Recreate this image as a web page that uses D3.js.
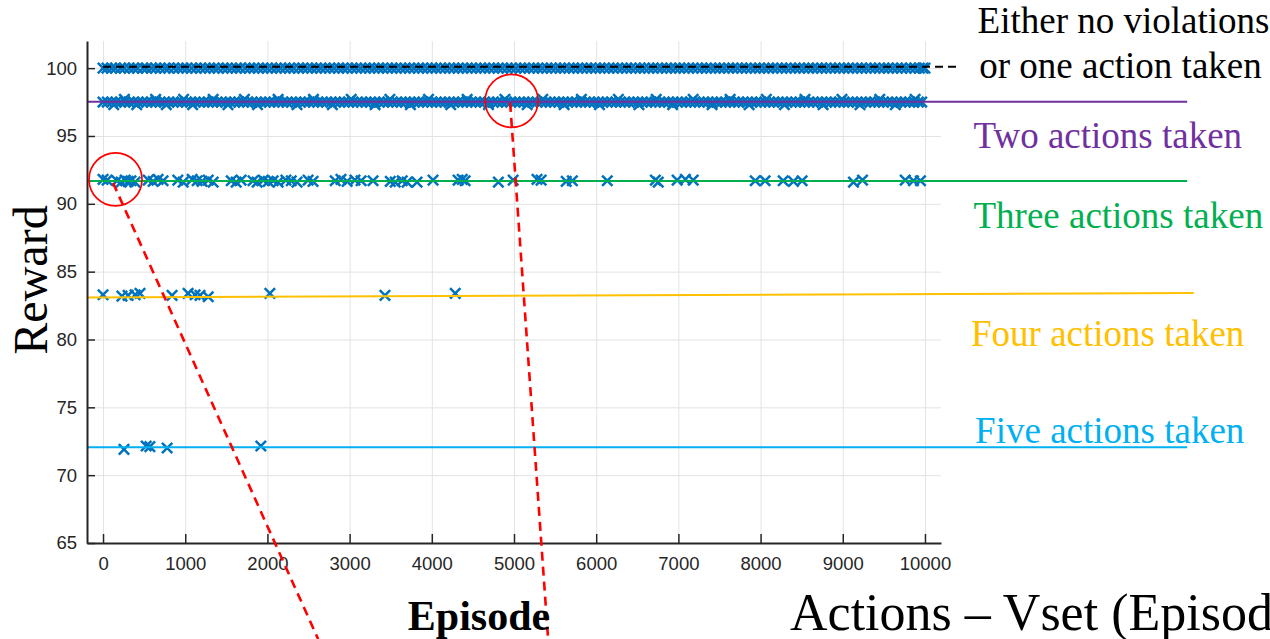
<!DOCTYPE html>
<html>
<head>
<meta charset="utf-8">
<script src="https://cdn.jsdelivr.net/npm/d3@7"></script>
<style>
  body { margin: 0; background: #fff; overflow: hidden; }
  .tick text { font-family: "Liberation Sans", Arial, sans-serif; font-size: 18.5px; fill: #262626; }
  .serif { font-family: "Liberation Serif", "Times New Roman", serif; }
</style>
</head>
<body>
<div id="chart"></div>
<script>
// episodes where the reward was 100 (no violations / one action)
var ep100 = [0,48,103,150,212,260,318,371,420,483,530,589,640,697,752,800,861,915,968,1020,1077,1130,1188,1242,1296,1350,1401,1460,1512,1566,1620,1671,1730,1784,1836,1890,1945,1999,2052,2108,2160,2215,2270,2322,2380,2433,2487,2540,2596,2650,2703,2758,2811,2866,2920,2972,3030,3083,3136,3190,3245,3298,3352,3405,3460,3514,3567,3622,3675,3730,3783,3838,3890,3945,4000,4052,4106,4160,4215,4268,4322,4376,4430,4484,4538,4592,4645,4700,4753,4808,4860,4915,4968,5022,5077,5130,5185,5238,5292,5346,5400,5454,5507,5562,5615,5670,5723,5778,5830,5885,5938,5992,6046,6100,6154,6208,6262,6316,6370,6424,6478,6532,6585,6640,6693,6748,6800,6855,6908,6962,7016,7070,7124,7178,7232,7286,7340,7394,7448,7502,7556,7610,7664,7718,7772,7826,7880,7934,7988,8042,8096,8150,8204,8258,8312,8366,8420,8474,8528,8582,8636,8690,8744,8798,8852,8906,8960,9014,9068,9122,9176,9230,9284,9338,9392,9446,9500,9554,9608,9662,9716,9770,9824,9878,9932,9975,10000];

// episodes with two actions taken (~97.5)
var ep975 = [0,52,106,158,213,266,320,372,427,480,533,588,640,694,747,800,854,907,960,1014,1067,1120,1174,1227,1280,1334,1387,1440,1494,1547,1600,1654,1707,1760,1814,1867,1920,1974,2027,2080,2134,2187,2240,2294,2347,2400,2454,2507,2560,2614,2667,2720,2774,2827,2880,2934,2987,3040,3094,3147,3200,3254,3307,3360,3414,3467,3520,3574,3627,3680,3734,3787,3840,3894,3947,4000,4054,4107,4160,4214,4267,4320,4374,4427,4480,4534,4587,4640,4694,4747,4800,4854,4907,4960,5014,5067,5120,5174,5227,5280,5334,5387,5440,5494,5547,5600,5654,5707,5760,5814,5867,5920,5974,6027,6080,6134,6187,6240,6294,6347,6400,6454,6507,6560,6614,6667,6720,6774,6827,6880,6934,6987,7040,7094,7147,7200,7254,7307,7360,7414,7467,7520,7574,7627,7680,7734,7787,7840,7894,7947,8000,8054,8107,8160,8214,8267,8320,8374,8427,8480,8534,8587,8640,8694,8747,8800,8854,8907,8960,9014,9067,9120,9174,9227,9280,9334,9387,9440,9494,9547,9600,9654,9707,9760,9814,9867,9920,9960];
var ep975lo = [130,410,770,1090,1520,1880,2360,2790,3310,3740,4230,4690,5160,5610,6040,6520,6930,7410,7860,8290,8760,9210,9640];
var ep975hi = [260,640,980,1340,1720,2130,2560,3020,3490,3960,4430,4890,5350,5820,6270,6730,7180,7630,8070,8540,8990,9450,9880];

// [episode, reward]
var threeActions = [[0,91.8],[50,91.75],[170,91.7],[220,91.6],[270,91.75],[305,91.65],[340,91.7],[390,91.6],[550,91.75],[610,91.65],[670,91.8],[730,91.7],[910,91.75],[975,91.6],[1085,91.8],[1145,91.7],[1205,91.65],[1280,91.75],[1340,91.6],[1560,91.7],[1620,91.6],[1680,91.75],[1825,91.7],[1875,91.6],[1950,91.75],[2010,91.65],[2070,91.7],[2130,91.6],[2225,91.75],[2290,91.7],[2360,91.6],[2495,91.75],[2555,91.65],[2825,91.7],[2895,91.8],[2970,91.65],[3065,91.75],[3140,91.7],[3285,91.7],[3495,91.65],[3555,91.6],[3640,91.7],[3700,91.6],[3820,91.6],[4015,91.75],[4320,91.75],[4370,91.8],[4405,91.7],[4810,91.6],[4990,91.75],[5280,91.8],[5330,91.75],[5635,91.65],[5710,91.7],[6135,91.7],[6720,91.75],[6755,91.6],[6985,91.75],[7085,91.8],[7180,91.75],[7935,91.7],[8055,91.7],[8275,91.7],[8400,91.65],[8505,91.7],[9130,91.6],[9240,91.75],[9760,91.75],[9860,91.7],[9945,91.7]];
var fourActions = [[0,83.3],[230,83.2],[305,83.25],[390,83.3],[450,83.4],[840,83.25],[1035,83.4],[1120,83.3],[1180,83.25],[1280,83.15],[2030,83.4],[3430,83.25],[4285,83.4]];
var fiveActions = [[255,71.9],[525,72.15],[570,72.1],[780,72.0],[1920,72.15]];

// reference lines in episode/reward units
var refLines = [
  {name: "none", pts: [[0, 100.1], [10400, 100.1]], color: "#000", dash: "8,5"},
  {name: "two", pts: [[-195, 97.53], [13190, 97.53]], color: "#7030A0", dash: null},
  {name: "three", pts: [[-195, 91.68], [13190, 91.68]], color: "#00B050", dash: null},
  {name: "four", pts: [[-195, 83.1], [13270, 83.42]], color: "#FFC000", dash: null},
  {name: "five", pts: [[-195, 72.05], [13190, 72.05]], color: "#00B0F0", dash: null}
];

var labels = [
  {text: "Either no violations", ep: 10640, r: 102.6, color: "#000"},
  {text: "or one action taken", ep: 10660, r: 99.3, color: "#000"},
  {text: "Two actions taken", ep: 10590, r: 94.1, color: "#7030A0"},
  {text: "Three actions taken", ep: 10590, r: 88.2, color: "#00B050"},
  {text: "Four actions taken", ep: 10560, r: 79.5, color: "#FFC000"},
  {text: "Five actions taken", ep: 10610, r: 72.4, color: "#00B0F0"}
];

// highlighted episodes and their pointers
var highlights = [
  {ep: 152, r: 91.8, to: [[122, 91.54], [2617, 57.92]]},
  {ep: 4971, r: 97.59, to: [[4953, 97.44], [5415, 57.92]]}
];

var yTicks = [65, 70, 75, 80, 85, 90, 95, 100];
var xTicks = [0, 1000, 2000, 3000, 4000, 5000, 6000, 7000, 8000, 9000, 10000];

const width = 1270, height = 639;
const plotLeft = 87, plotRight = 941, plotTop = 41, plotBottom = 543;

const svg = d3.select("#chart").append("svg")
    .attr("width", width)
    .attr("height", height);

const x = d3.scaleLinear().domain([-195, 10195]).range([plotLeft, plotRight]);
const y = d3.scaleLinear().domain([65, 102]).range([plotBottom, plotTop]);

// grid
svg.append("g")
    .attr("transform", "translate(0," + plotBottom + ")")
    .call(d3.axisBottom(x).tickValues(xTicks).tickSize(-(plotBottom - plotTop)).tickFormat(""))
    .call(g => g.select(".domain").remove())
    .call(g => g.selectAll("line").attr("stroke", "#e3e3e3"));
svg.append("g")
    .attr("transform", "translate(" + plotLeft + ",0)")
    .call(d3.axisLeft(y).tickValues(yTicks).tickSize(-(plotRight - plotLeft)).tickFormat(""))
    .call(g => g.select(".domain").remove())
    .call(g => g.selectAll("line").attr("stroke", "#e3e3e3"));

// markers
const cross = "M-5.2,-5.2L5.2,5.2M-5.2,5.2L5.2,-5.2";
var points = []
    .concat(ep100.map(e => [e, 100]))
    .concat(ep975.map(e => [e, 97.5]))
    .concat(ep975lo.map(e => [e, 97.3]))
    .concat(ep975hi.map(e => [e, 97.7]))
    .concat(threeActions, fourActions, fiveActions);

svg.append("g").selectAll("path")
    .data(points)
    .enter().append("path")
    .attr("d", cross)
    .attr("transform", d => "translate(" + x(d[0]) + "," + y(d[1]) + ")")
    .attr("fill", "none")
    .attr("stroke", "#0072BD")
    .attr("stroke-width", 2.5);

// reference lines
const line = d3.line().x(d => x(d[0])).y(d => y(d[1]));
svg.append("g").selectAll("path")
    .data(refLines)
    .enter().append("path")
    .attr("d", d => line(d.pts))
    .attr("fill", "none")
    .attr("stroke", d => d.color)
    .attr("stroke-width", 2)
    .attr("stroke-dasharray", d => d.dash);

// axes
const yAxis = svg.append("g")
    .attr("transform", "translate(" + plotLeft + ",0)")
    .call(d3.axisLeft(y).tickValues(yTicks).tickSizeInner(-8).tickSizeOuter(0).tickPadding(10));
const xAxis = svg.append("g")
    .attr("transform", "translate(0," + plotBottom + ")")
    .call(d3.axisBottom(x).tickValues(xTicks).tickSizeInner(-9).tickSizeOuter(0).tickPadding(14).tickFormat(d3.format("d")));
[yAxis, xAxis].forEach(function(a) {
    a.select(".domain").attr("stroke", "#262626").attr("stroke-width", 2);
    a.selectAll(".tick line").attr("stroke", "#262626").attr("stroke-width", 1.5);
});

// highlight circles and pointers
svg.append("g").selectAll("circle")
    .data(highlights)
    .enter().append("circle")
    .attr("cx", d => x(d.ep))
    .attr("cy", d => y(d.r))
    .attr("r", 26.5)
    .attr("fill", "none")
    .attr("stroke", "#ff0000")
    .attr("stroke-width", 1.7);
svg.append("g").selectAll("path")
    .data(highlights)
    .enter().append("path")
    .attr("d", d => line(d.to))
    .attr("fill", "none")
    .attr("stroke", "#ff0000")
    .attr("stroke-width", 2.6)
    .attr("stroke-dasharray", "9,6");

// right-hand labels
svg.append("g").selectAll("text")
    .data(labels)
    .enter().append("text")
    .attr("class", "serif")
    .attr("x", d => x(d.ep))
    .attr("y", d => y(d.r))
    .attr("fill", d => d.color)
    .style("font-size", "37px")
    .text(d => d.text);

// axis titles
svg.append("text")
    .attr("class", "serif")
    .attr("transform", "translate(47,280) rotate(-90)")
    .attr("text-anchor", "middle")
    .style("font-size", "48px")
    .text("Reward");
svg.append("text")
    .attr("class", "serif")
    .attr("x", 479)
    .attr("y", 630)
    .attr("text-anchor", "middle")
    .style("font-size", "42px")
    .style("font-weight", "bold")
    .text("Episode");
svg.append("text")
    .attr("class", "serif")
    .attr("x", 790)
    .attr("y", 630)
    .style("font-size", "52px")
    .text("Actions – Vset (Episode)");
</script>
</body>
</html>
